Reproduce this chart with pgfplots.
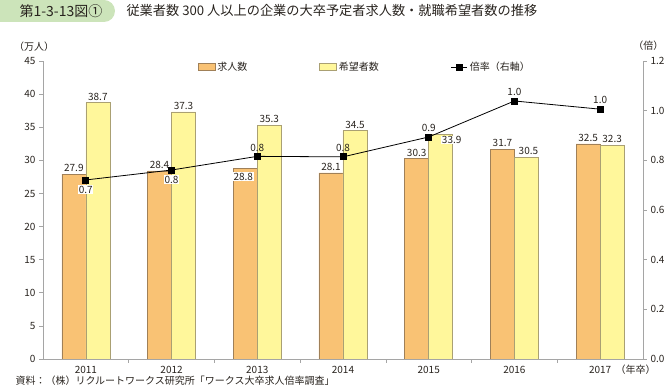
\documentclass[border=0pt]{standalone}
\usepackage{fontspec}
\setmainfont{Noto Sans CJK JP}
\usepackage{pgfplots}
\pgfplotsset{compat=1.18}
\definecolor{ofill}{RGB}{249,194,116}
\definecolor{oedge}{RGB}{160,128,88}
\definecolor{yfill}{RGB}{255,247,155}
\definecolor{yedge}{RGB}{170,160,115}
\definecolor{axgray}{RGB}{165,165,165}
\definecolor{txt}{RGB}{40,35,30}
\definecolor{tgreen}{RGB}{204,228,186}
\begin{document}
\begin{tikzpicture}
\path[use as bounding box] (0pt,0pt) rectangle (667pt,387pt);
\fill[tgreen, rounded corners=11pt] (-12pt,365pt) rectangle (115pt,387pt);
\node[anchor=west, text=txt, font=\fontsize{14}{16}\selectfont] at (16pt,376pt) {第1-3-13図①};
\node[anchor=west, text=txt, font=\fontsize{13.2}{16}\selectfont] at (123pt,376pt) {従業者数 300 人以上の企業の大卒予定者求人数・就職希望者数の推移};
\node[text=txt, font=\fontsize{10}{12}\selectfont] at (34pt,340pt) {（万人）};
\node[text=txt, font=\fontsize{10}{12}\selectfont, anchor=east] at (667pt,341pt) {（倍）};
\node[anchor=west, text=txt, font=\fontsize{10}{12}\selectfont] at (612pt,17pt) {（年卒）};
\node[anchor=west, text=txt, font=\fontsize{10}{12}\selectfont] at (12pt,6pt) {資料：（株）リクルートワークス研究所「ワークス大卒求人倍率調査」};
\begin{axis}[name=ax1, at={(43pt,28pt)}, anchor=south west, scale only axis, width=600pt, height=298pt,
  xmin=-0.5, xmax=6.5, ymin=0, ymax=45,
  ytick={0,5,...,45},
  axis y line*=left, axis x line*=bottom,
  axis line style={draw=axgray}, tick style={axgray, line width=0.6pt},
  ytick align=outside, xtick align=inside,
  xtick={0.5,1.5,...,5.5}, xticklabels={},
  major tick length=4pt,
  extra x ticks={0,1,2,3,4,5,6},
  extra x tick labels={2011,2012,2013,2014,2015,2016,2017},
  extra x tick style={xtick style={draw=none}},
  tick label style={text=txt, font=\fontsize{10}{12}\selectfont},
  /pgf/number format/assume math mode=true,
  ybar, ybar=0pt, bar width=24pt,
  clip=false]
\addplot[fill=ofill, draw=oedge, line width=0.5pt] coordinates {(0,27.9) (1,28.4) (2,28.8) (3,28.1) (4,30.3) (5,31.7) (6,32.5)};
\addplot[fill=yfill, draw=yedge, line width=0.5pt] coordinates {(0,38.7) (1,37.3) (2,35.3) (3,34.5) (4,33.9) (5,30.5) (6,32.3)};
\begin{scope}[every node/.style={text=txt, font=\fontsize{10}{12}\selectfont, inner sep=1pt}]
\node[anchor=south, xshift=-12pt, yshift=1pt] at (axis cs:0,27.9) {27.9};
\node[anchor=south, xshift=-12pt, yshift=1pt] at (axis cs:1,28.4) {28.4};
\node[anchor=north, xshift=-14pt, yshift=-4pt, fill=white, inner sep=0.6pt] at (axis cs:2,28.8) {28.8};
\node[anchor=south, xshift=-12pt, yshift=1pt] at (axis cs:3,28.1) {28.1};
\node[anchor=south, xshift=-12pt, yshift=1pt] at (axis cs:4,30.3) {30.3};
\node[anchor=south, xshift=-12pt, yshift=1pt] at (axis cs:5,31.7) {31.7};
\node[anchor=south, xshift=-12pt, yshift=1pt] at (axis cs:6,32.5) {32.5};
\node[anchor=south, xshift=12pt, yshift=1pt] at (axis cs:0,38.7) {38.7};
\node[anchor=south, xshift=12pt, yshift=1pt] at (axis cs:1,37.3) {37.3};
\node[anchor=south, xshift=12pt, yshift=1pt] at (axis cs:2,35.3) {35.3};
\node[anchor=south, xshift=12pt, yshift=1pt] at (axis cs:3,34.5) {34.5};
\node[anchor=north, xshift=23pt, yshift=-1pt, fill=white, inner sep=0.6pt] at (axis cs:4,33.9) {33.9};
\node[anchor=south, xshift=14pt, yshift=1pt] at (axis cs:5,30.5) {30.5};
\node[anchor=south, xshift=12pt, yshift=1pt] at (axis cs:6,32.3) {32.3};
\end{scope}
\end{axis}
\begin{axis}[at={(ax1.south west)}, anchor=south west, scale only axis, width=600pt, height=298pt,
  xmin=-0.5, xmax=6.5, ymin=0, ymax=1.2,
  axis y line*=right, axis x line*=bottom, xtick=\empty,
  axis line style={draw=axgray}, tick style={axgray, line width=0.6pt},
  ytick align=outside, major tick length=4pt,
  ytick={0,0.2,0.4,0.6,0.8,1.0,1.2},
  yticklabel style={/pgf/number format/.cd, fixed, fixed zerofill, precision=1},
  tick label style={text=txt, font=\fontsize{10}{12}\selectfont},
  /pgf/number format/assume math mode=true,
  legend style={draw=none, fill=none, at={(0.258,0.98)}, anchor=west, inner sep=0pt,
    font=\fontsize{10}{12}\selectfont, text=txt,
    /tikz/every even column/.append style={column sep=70pt}},
  legend columns=3,
  clip=false]
\addlegendimage{legend image code/.code={\draw[fill=ofill, draw=oedge, line width=0.5pt] (0pt,-3.5pt) rectangle (17pt,3.5pt);}}
\addlegendentry{求人数}
\addlegendimage{legend image code/.code={\draw[fill=yfill, draw=yedge, line width=0.5pt] (0pt,-3.5pt) rectangle (17pt,3.5pt);}}
\addlegendentry{希望者数}
\addplot[black, line width=0.8pt, mark=square*, mark size=3pt, mark options={fill=black},
  legend image code/.code={\draw[black, line width=0.8pt] (0pt,0pt) -- (16pt,0pt); \fill[black] (5pt,-3pt) rectangle (11pt,3pt);}]
  coordinates {(0,0.721) (1,0.761) (2,0.816) (3,0.814) (4,0.894) (5,1.039) (6,1.006)};
\addlegendentry{倍率（右軸）}
\begin{scope}[every node/.style={text=txt, font=\fontsize{10}{12}\selectfont, inner sep=1pt}]
\node[anchor=north, yshift=-5pt, fill=white, inner sep=0.6pt] at (axis cs:0,0.721) {0.7};
\node[anchor=north, yshift=-5pt, fill=white, inner sep=0.6pt] at (axis cs:1,0.761) {0.8};
\node[anchor=south, yshift=4pt] at (axis cs:2,0.816) {0.8};
\node[anchor=south, yshift=4pt] at (axis cs:3,0.814) {0.8};
\node[anchor=south, yshift=4pt] at (axis cs:4,0.894) {0.9};
\node[anchor=south, yshift=4pt] at (axis cs:5,1.039) {1.0};
\node[anchor=south, yshift=4pt] at (axis cs:6,1.006) {1.0};
\end{scope}
\end{axis}
\end{tikzpicture}
\end{document}
